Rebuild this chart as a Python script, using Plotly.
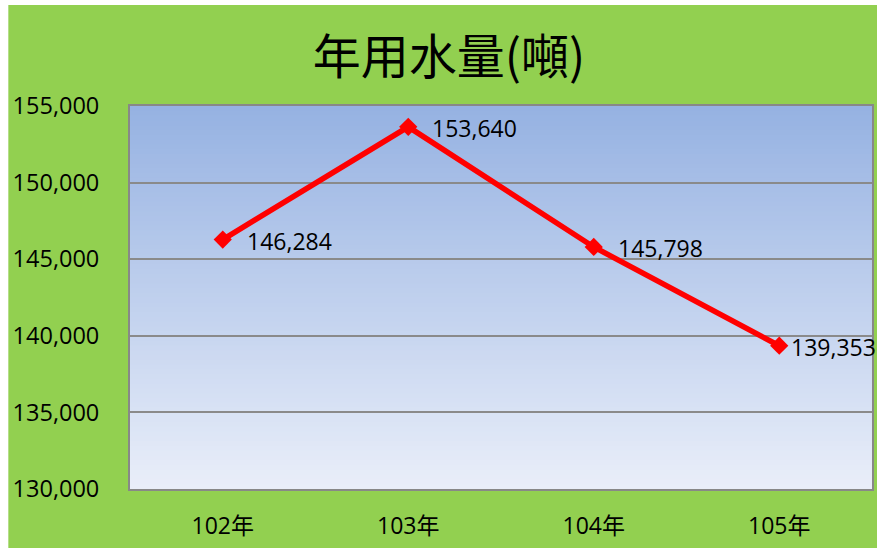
import plotly.graph_objects as go

years = ["102年", "103年", "104年", "105年"]
water = [146284, 153640, 145798, 139353]
y_ticks = [130000, 135000, 140000, 145000, 150000, 155000]
y_tick_text = ["130,000", "135,000", "140,000", "145,000", "150,000", "155,000"]

GREEN = "#92D050"
NUM_FONT = "Open Sans, Noto Sans CJK TC, sans-serif"
label_xshift = [22, 22, 22, 10]

fig = go.Figure()
fig.add_trace(go.Scatter(
    x=years, y=water, mode="lines+markers",
    line=dict(color="#FF0000", width=5.5),
    marker=dict(symbol="diamond", size=14, color="#FF0000"),
    cliponaxis=False, showlegend=False, hoverinfo="skip",
))

for xv, yv, sh in zip(years, water, label_xshift):
    fig.add_annotation(x=xv, y=yv, text=f"{yv:,}", showarrow=False,
                       xanchor="left", yanchor="middle", xshift=sh, yshift=-1,
                       font=dict(family=NUM_FONT, size=23, color="#000000"))

W, H = 877, 548
L, R, T, B = 130, 3, 106, 59
pw, ph = W - L - R, H - T - B

# plot area vertical gradient
shapes = []
top = (150, 178, 226)
bot = (233, 238, 249)
n = 80
for i in range(n):
    t = i / (n - 1)
    c = tuple(round(bot[k] + (top[k] - bot[k]) * t) for k in range(3))
    shapes.append(dict(type="rect", xref="paper", yref="paper",
                       x0=0, x1=1, y0=i / n, y1=(i + 1) / n + 0.002,
                       fillcolor=f"rgb{c}", line=dict(width=0), layer="below"))
# white outer strips (left / top)
shapes.append(dict(type="rect", xref="paper", yref="paper",
                   x0=-L / pw - 0.01, x1=(8 - L) / pw, y0=-B / ph - 0.01, y1=1 + T / ph + 0.01,
                   fillcolor="white", line=dict(width=0), layer="below"))
shapes.append(dict(type="rect", xref="paper", yref="paper",
                   x0=-L / pw - 0.01, x1=1 + R / pw + 0.01, y0=1 + (T - 5) / ph, y1=1 + T / ph + 0.01,
                   fillcolor="white", line=dict(width=0), layer="below"))

fig.update_layout(
    width=W, height=H,
    margin=dict(l=L, r=R, t=T, b=B),
    paper_bgcolor=GREEN,
    plot_bgcolor="rgba(0,0,0,0)",
    shapes=shapes,
    title=dict(text="年用水量(噸)", x=0.512, xanchor="center", y=0.896, yanchor="middle",
               font=dict(family="Noto Sans CJK TC, sans-serif", size=48, color="#000000")),
    xaxis=dict(type="category", range=[-0.5, 3.5], showgrid=False,
               showline=True, linecolor="#888888", linewidth=2, mirror=True,
               ticks="", tickfont=dict(family=NUM_FONT, size=23, color="#000000"),
               ticklabelstandoff=15),
    yaxis=dict(range=[130000, 155000], tickvals=y_ticks, ticktext=y_tick_text,
               showgrid=True, gridcolor="#8A8A8A", gridwidth=1.5,
               showline=True, linecolor="#888888", linewidth=2, mirror=True,
               zeroline=False, ticks="",
               tickfont=dict(family=NUM_FONT, size=23.5, color="#000000"),
               ticklabelstandoff=24),
)

fig.write_html(
    "out.html",
    config={"displayModeBar": False},
    post_script="document.body.style.margin='0';document.body.style.overflow='hidden';",
)
